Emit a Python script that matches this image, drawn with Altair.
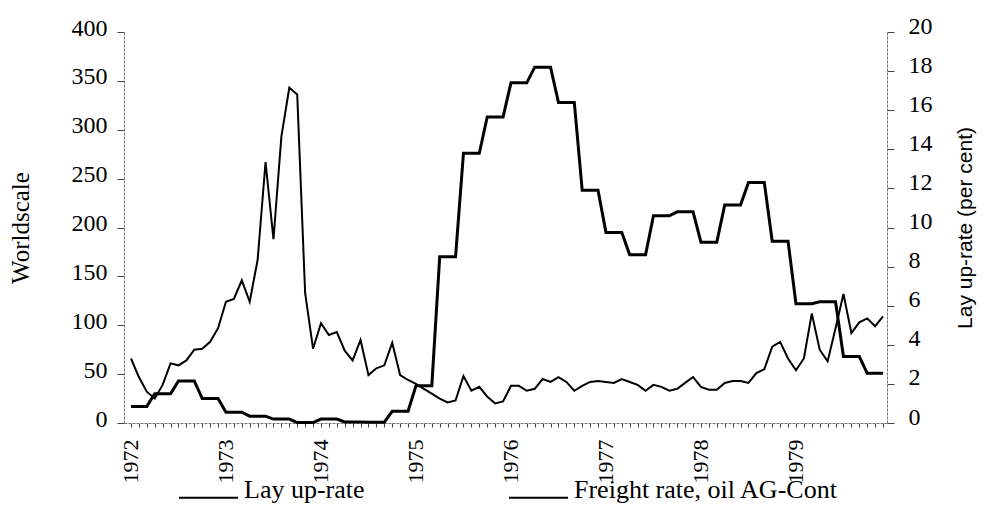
import altair as alt
import pandas as pd

# ---- data ----
year_labels = ["1972", "1973", "1974", "1975", "1976", "1977", "1978", "1979"]

# Monthly freight rate, oil AG-Cont (Worldscale), Jan 1972 .. Dec 1979
freight_1972 = [66, 47, 32, 25, 39, 61, 59, 64, 75, 76, 83, 97]
freight_1973 = [124, 127, 146, 124, 167, 267, 188, 293, 343, 336, 133, 76]
freight_1974 = [102, 90, 93, 74, 64, 85, 49, 56, 59, 82, 49, 44]
freight_1975 = [40, 35, 30, 25, 21, 23, 48, 33, 37, 27, 20, 22]
freight_1976 = [38, 38, 33, 35, 45, 42, 47, 42, 33, 38, 42, 43]
freight_1977 = [42, 41, 45, 42, 39, 33, 39, 37, 33, 35, 41, 47]
freight_1978 = [37, 34, 34, 41, 43, 43, 41, 51, 55, 78, 83, 66]
freight_1979 = [54, 66, 112, 75, 63, 97, 132, 92, 103, 107, 99, 109]

# Quarterly lay up-rate (per cent), Q1 1972 .. Q4 1979
layup_1972 = [0.85, 1.5, 2.15, 1.25]
layup_1973 = [0.55, 0.35, 0.2, 0.02]
layup_1974 = [0.2, 0.05, 0.04, 0.6]
layup_1975 = [1.9, 8.5, 13.8, 15.65]
layup_1976 = [17.4, 18.2, 16.4, 11.9]
layup_1977 = [9.75, 8.6, 10.6, 10.8]
layup_1978 = [9.25, 11.15, 12.3, 9.3]
layup_1979 = [6.1, 6.2, 3.4, 2.55]

series_names = ["Lay up-rate", "Freight rate, oil AG-Cont"]

freight = (freight_1972 + freight_1973 + freight_1974 + freight_1975 +
           freight_1976 + freight_1977 + freight_1978 + freight_1979)
layup_q = (layup_1972 + layup_1973 + layup_1974 + layup_1975 +
           layup_1976 + layup_1977 + layup_1978 + layup_1979)

months = list(range(len(freight)))
layup = [layup_q[m // 3] for m in months]  # each quarter's value held for its 3 months

df_f = pd.DataFrame({"month": months, "value": freight, "series": series_names[1]})
df_l = pd.DataFrame({"month": months, "value": layup, "series": series_names[0]})

label_array = "[" + ",".join("'%s'" % y for y in year_labels) + "]"
label_expr = "datum.value % 12 == 0 ? " + label_array + "[floor(datum.value / 12)] : ''"

serif = "Liberation Serif"

x_enc = alt.X(
    "month:Q",
    scale=alt.Scale(domain=[-0.88, 95.5], nice=False, zero=False),
    axis=alt.Axis(
        values=months,
        labelExpr=label_expr,
        labelAngle=270,
        labelAlign="right",
        labelBaseline="middle",
        labelOverlap=False,
        labelPadding=12,
        labelFont=serif,
        labelFontSize=22,
        labelColor="black",
        tickSize=4,
        tickColor="#444",
        domainColor="#777",
        domainDash=[3, 1],
        grid=False,
        title=None,
    ),
)

color_enc = alt.Color(
    "series:N",
    scale=alt.Scale(domain=series_names, range=["black", "black"]),
    legend=alt.Legend(
        title=None,
        orient="none",
        direction="horizontal",
        legendX=54,
        legendY=435,
        symbolType="stroke",
        symbolSize=3481,
        symbolStrokeWidth=2,
        symbolStrokeColor="black",
        labelFont=serif,
        labelFontSize=26,
        labelColor="black",
        labelBaseline="alphabetic",
        labelOffset=5,
        labelLimit=500,
        columnPadding=140,
        padding=0,
    ),
)

freight_line = alt.Chart(df_f).mark_line(strokeWidth=2, color="black").encode(
    x=x_enc,
    y=alt.Y(
        "value:Q",
        scale=alt.Scale(domain=[0, 400], nice=False),
        axis=alt.Axis(
            orient="left",
            values=[0, 50, 100, 150, 200, 250, 300, 350, 400],
            title="Worldscale",
            titleFont=serif,
            titleFontSize=25,
            titleFontWeight="normal",
            titleColor="black",
            titlePadding=38,
            labelFont=serif,
            labelFontSize=24,
            labelColor="black",
            labelPadding=10,
            labelOffset=-4,
            tickSize=7,
            tickColor="#444",
            domainColor="#777",
            domainDash=[3, 1],
            grid=False,
        ),
    ),
    color=color_enc,
)

layup_line = alt.Chart(df_l).mark_line(strokeWidth=3, color="black").encode(
    x=x_enc,
    y=alt.Y(
        "value:Q",
        scale=alt.Scale(domain=[0, 20], nice=False),
        axis=alt.Axis(
            orient="right",
            values=[0, 2, 4, 6, 8, 10, 12, 14, 16, 18, 20],
            title="Lay up-rate (per cent)",
            titleFont="Liberation Sans",
            titleFontSize=21,
            titleFontWeight="normal",
            titleColor="black",
            titleAngle=270,
            titleX=88,
            labelFont=serif,
            labelFontSize=24,
            labelColor="black",
            labelPadding=14,
            labelOffset=-6,
            tickSize=7,
            tickColor="#444",
            domainColor="#777",
            domainDash=[3, 1],
            grid=False,
        ),
    ),
    color=color_enc,
)

chart = (
    alt.layer(freight_line, layup_line)
    .resolve_scale(y="independent")
    .properties(
        width=763,
        height=391,
        autosize=alt.AutoSizeParams(type="none"),
        padding={"left": 116, "top": 24, "right": 93, "bottom": 81},
        background="white",
    )
    .configure_view(stroke=None)
)

chart.save("out.html", embed_options={"renderer": "svg", "actions": False})
